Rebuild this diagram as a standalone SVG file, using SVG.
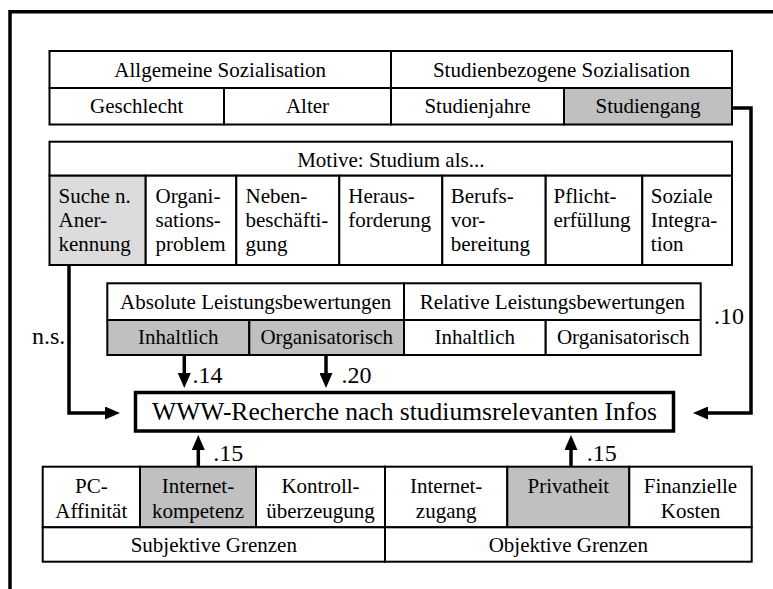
<svg xmlns="http://www.w3.org/2000/svg" width="773" height="589" viewBox="0 0 773 589">
<style>
  .cell { fill: #ffffff; stroke: #000000; stroke-width: 2; }
  .gray { fill: #c0c0c0; stroke: #000000; stroke-width: 2; }
  .light { fill: #dcdcdc; stroke: #000000; stroke-width: 2; }
  .t { font-family: "Liberation Serif", "Times New Roman", serif; font-size: 21px; fill: #000000; }
  .c { text-anchor: middle; }
  .lbl { font-family: "Liberation Serif", "Times New Roman", serif; font-size: 24px; fill: #000000; }
  .main { fill: #ffffff; stroke: #000000; stroke-width: 3.5; }
  .mt { font-family: "Liberation Serif", "Times New Roman", serif; font-size: 25.5px; fill: #000000; text-anchor: middle; }
  .conn { fill: none; stroke: #000000; stroke-width: 3.5; }
  .frame { fill: none; stroke: #000000; stroke-width: 3.5; }
</style>
<defs>
  <marker id="arr" viewBox="0 0 15 13" refX="0" refY="6.5" markerWidth="15" markerHeight="13" markerUnits="userSpaceOnUse" orient="auto">
    <path d="M0,0 L15,6.5 L0,13 z" fill="#000000"/>
  </marker>
</defs>

<path class="frame" d="M10,589 V11.7 H773"/>

<!-- Top table: Sozialisation -->
<g id="sozialisation">
  <rect class="cell" x="49.5" y="51" width="341.5" height="37"/>
  <rect class="cell" x="391" y="51" width="341" height="37"/>
  <text class="t c" x="220.2" y="77">Allgemeine Sozialisation</text>
  <text class="t c" x="561.5" y="77">Studienbezogene Sozialisation</text>
</g>
<g id="geschlecht">
  <rect class="cell" x="49.5" y="88" width="174.5" height="36.5"/>
  <text class="t c" x="136.7" y="113">Geschlecht</text>
</g>
<g id="alter">
  <rect class="cell" x="224" y="88" width="167" height="36.5"/>
  <text class="t c" x="307.5" y="113">Alter</text>
</g>
<g id="studienjahre">
  <rect class="cell" x="391" y="88" width="173" height="36.5"/>
  <text class="t c" x="477.5" y="113">Studienjahre</text>
</g>
<g id="studiengang">
  <rect class="gray" x="564" y="88" width="168" height="36.5"/>
  <text class="t c" x="648" y="113">Studiengang</text>
</g>

<!-- Motive table -->
<g id="motive">
  <rect class="cell" x="49.5" y="141.7" width="682.5" height="34"/>
  <text class="t c" x="390.8" y="167">Motive: Studium als...</text>
</g>
<g id="anerkennung">
  <rect class="light" x="49.5" y="175.7" width="96.2" height="89.3"/>
  <text class="t" x="58.5" y="202.5">Suche n.</text>
  <text class="t" x="58.5" y="226.5">Aner-</text>
  <text class="t" x="58.5" y="250.5">kennung</text>
</g>
<g id="organisationsproblem">
  <rect class="cell" x="145.7" y="175.7" width="90.6" height="89.3"/>
  <text class="t" x="155.5" y="202.5">Organi-</text>
  <text class="t" x="155.5" y="226.5">sations-</text>
  <text class="t" x="155.5" y="250.5">problem</text>
</g>
<g id="nebenbeschaeftigung">
  <rect class="cell" x="236.3" y="175.7" width="103" height="89.3"/>
  <text class="t" x="245.5" y="202.5">Neben-</text>
  <text class="t" x="245.5" y="226.5">beschäfti-</text>
  <text class="t" x="245.5" y="250.5">gung</text>
</g>
<g id="herausforderung">
  <rect class="cell" x="339.3" y="175.7" width="103" height="89.3"/>
  <text class="t" x="348.3" y="202.5">Heraus-</text>
  <text class="t" x="348.3" y="226.5">forderung</text>
</g>
<g id="berufsvorbereitung">
  <rect class="cell" x="442.3" y="175.7" width="103.4" height="89.3"/>
  <text class="t" x="450.8" y="202.5">Berufs-</text>
  <text class="t" x="450.8" y="226.5">vor-</text>
  <text class="t" x="450.8" y="250.5">bereitung</text>
</g>
<g id="pflichterfuellung">
  <rect class="cell" x="545.7" y="175.7" width="96.6" height="89.3"/>
  <text class="t" x="553.5" y="202.5">Pflicht-</text>
  <text class="t" x="553.5" y="226.5">erfüllung</text>
</g>
<g id="sozialeintegration">
  <rect class="cell" x="642.3" y="175.7" width="89.7" height="89.3"/>
  <text class="t" x="650.8" y="202.5">Soziale</text>
  <text class="t" x="650.8" y="226.5">Integra-</text>
  <text class="t" x="650.8" y="250.5">tion</text>
</g>

<!-- Leistungsbewertungen -->
<g id="leistungsbewertungen">
  <rect class="cell" x="107.3" y="283.3" width="296.7" height="36.7"/>
  <rect class="cell" x="404" y="283.3" width="296.7" height="36.7"/>
  <text class="t c" x="255.7" y="308.5">Absolute Leistungsbewertungen</text>
  <text class="t c" x="552.3" y="308.5">Relative Leistungsbewertungen</text>
</g>
<g id="abs-inhaltlich">
  <rect class="gray" x="107.3" y="320" width="142" height="35"/>
  <text class="t c" x="178.3" y="344">Inhaltlich</text>
</g>
<g id="abs-organisatorisch">
  <rect class="gray" x="249.3" y="320" width="154.7" height="35"/>
  <text class="t c" x="326.7" y="344">Organisatorisch</text>
</g>
<g id="rel-inhaltlich">
  <rect class="cell" x="404" y="320" width="141.7" height="35"/>
  <text class="t c" x="474.8" y="344">Inhaltlich</text>
</g>
<g id="rel-organisatorisch">
  <rect class="cell" x="545.7" y="320" width="155" height="35"/>
  <text class="t c" x="623.2" y="344">Organisatorisch</text>
</g>

<!-- Central node -->
<g id="www-recherche">
  <rect class="main" x="135.5" y="392.5" width="538" height="38.5"/>
  <text class="mt" x="404.5" y="420">WWW-Recherche nach studiumsrelevanten Infos</text>
</g>

<!-- Bottom table: Grenzen -->
<g id="pc-affinitaet">
  <rect class="cell" x="42.7" y="466.7" width="97.3" height="60.6"/>
  <text class="t c" x="91.3" y="493.3">PC-</text>
  <text class="t c" x="91.3" y="518.3">Affinität</text>
</g>
<g id="internetkompetenz">
  <rect class="gray" x="140" y="466.7" width="116" height="60.6"/>
  <text class="t c" x="198" y="493.3">Internet-</text>
  <text class="t c" x="198" y="518.3">kompetenz</text>
</g>
<g id="kontrollueberzeugung">
  <rect class="cell" x="256" y="466.7" width="129" height="60.6"/>
  <text class="t c" x="320.5" y="493.3">Kontroll-</text>
  <text class="t c" x="320.5" y="518.3">überzeugung</text>
</g>
<g id="internetzugang">
  <rect class="cell" x="385" y="466.7" width="122.3" height="60.6"/>
  <text class="t c" x="446.2" y="493.3">Internet-</text>
  <text class="t c" x="446.2" y="518.3">zugang</text>
</g>
<g id="privatheit">
  <rect class="gray" x="507.3" y="466.7" width="122" height="60.6"/>
  <text class="t c" x="568.3" y="493.3">Privatheit</text>
</g>
<g id="finanziellekosten">
  <rect class="cell" x="629.3" y="466.7" width="122.4" height="60.6"/>
  <text class="t c" x="690.5" y="493.3">Finanzielle</text>
  <text class="t c" x="690.5" y="518.3">Kosten</text>
</g>
<g id="grenzen">
  <rect class="cell" x="42.7" y="527.3" width="342.3" height="34.4"/>
  <rect class="cell" x="385" y="527.3" width="366.7" height="34.4"/>
  <text class="t c" x="213.8" y="551.7">Subjektive Grenzen</text>
  <text class="t c" x="568.3" y="551.7">Objektive Grenzen</text>
</g>

<!-- Connectors -->
<g id="connectors">
  <path class="conn" d="M69,265 V413 H105" marker-end="url(#arr)"/>
  <path class="conn" d="M732,108 H751 V413 H708" marker-end="url(#arr)"/>
  <path class="conn" d="M184.3,355 V373" marker-end="url(#arr)"/>
  <path class="conn" d="M326,355 V373" marker-end="url(#arr)"/>
  <path class="conn" d="M198.3,466.7 V450" marker-end="url(#arr)"/>
  <path class="conn" d="M571,466.7 V450" marker-end="url(#arr)"/>
  <text class="lbl" x="32" y="344">n.s.</text>
  <text class="lbl" x="714" y="324">.10</text>
  <text class="lbl" x="192.5" y="382.7">.14</text>
  <text class="lbl" x="341.5" y="382.7">.20</text>
  <text class="lbl" x="213.3" y="460.7">.15</text>
  <text class="lbl" x="586.7" y="460.7">.15</text>
</g>
</svg>
